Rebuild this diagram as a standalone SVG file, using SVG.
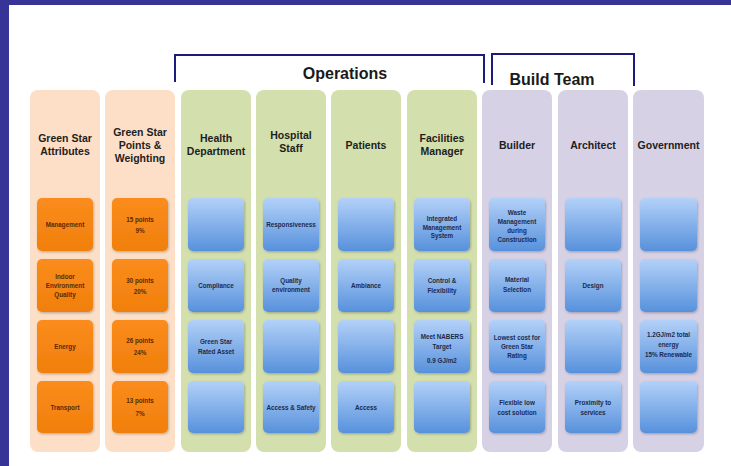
<svg xmlns="http://www.w3.org/2000/svg" width="731" height="466" viewBox="0 0 731 466">
<defs>
<linearGradient id="gBlue" x1="0" y1="0" x2="0" y2="1">
<stop offset="0" stop-color="#b3d1f8"/>
<stop offset="1" stop-color="#5791dc"/>
</linearGradient>
<linearGradient id="gOrange" x1="0" y1="0" x2="0" y2="1">
<stop offset="0" stop-color="#fb8c1c"/>
<stop offset="1" stop-color="#f07f0c"/>
</linearGradient>
<filter id="sh" x="-10%" y="-10%" width="130%" height="130%">
<feDropShadow dx="0.8" dy="1.2" stdDeviation="0.9" flood-color="#000" flood-opacity="0.25"/>
</filter>
</defs>
<style>
.col{stroke:none}
.peach{fill:#fcdfc6}
.green{fill:#d3dfad}
.lav{fill:#d7d1e5}
.ob{fill:url(#gOrange);filter:url(#sh)}
.bb{fill:url(#gBlue);filter:url(#sh)}
.hd{font-family:"Liberation Sans",Arial,sans-serif;font-weight:bold;font-size:10.5px;fill:#1e1e1e;text-anchor:middle}
.ot{font-family:"Liberation Sans",Arial,sans-serif;font-weight:bold;font-size:6.3px;fill:#5a2a05;text-anchor:middle}
.bt{font-family:"Liberation Sans",Arial,sans-serif;font-weight:bold;font-size:6.3px;fill:#1c2a4c;text-anchor:middle}
.grp{font-family:"Liberation Sans",Arial,sans-serif;font-weight:bold;font-size:16px;fill:#1a1a1a;text-anchor:middle}
.br{fill:none;stroke:#1c1c7c;stroke-width:2}
</style>
<rect x="0" y="0" width="731" height="466" fill="#ffffff"/>
<rect x="0" y="0" width="731" height="5" fill="#363597"/>
<rect x="0" y="0" width="9" height="466" fill="#363597"/>

<g id="connectors">
<path class="br" d="M175,82 V55 H484 V83"/>
<path class="br" d="M492,85 V54 H634 V86"/>
</g>
<g id="operations-label"><text class="grp" x="345" y="79">Operations</text></g>
<g id="buildteam-label"><text class="grp" x="552" y="85">Build Team</text></g>

<g id="col-attributes">
<rect class="col peach" x="30" y="90" width="70" height="362" rx="8"/>
<text class="hd" x="65" y="142">Green Star</text>
<text class="hd" x="65" y="155">Attributes</text>
<rect class="ob" x="37" y="198" width="56" height="53" rx="5"/>
<rect class="ob" x="37" y="259" width="56" height="53" rx="5"/>
<rect class="ob" x="37" y="320" width="56" height="53" rx="5"/>
<rect class="ob" x="37" y="381" width="56" height="52" rx="5"/>
<text class="ot" x="65" y="227.3">Management</text>
<text class="ot" x="65" y="279.3">Indoor</text>
<text class="ot" x="65" y="288.3">Environment</text>
<text class="ot" x="65" y="297.3">Quality</text>
<text class="ot" x="65" y="349">Energy</text>
<text class="ot" x="65" y="410">Transport</text>
</g>

<g id="col-points">
<rect class="col peach" x="105" y="90" width="70" height="362" rx="8"/>
<text class="hd" x="140" y="135.5">Green Star</text>
<text class="hd" x="140" y="148.5">Points &amp;</text>
<text class="hd" x="140" y="161.5">Weighting</text>
<rect class="ob" x="112" y="198" width="56" height="53" rx="5"/>
<rect class="ob" x="112" y="259" width="56" height="53" rx="5"/>
<rect class="ob" x="112" y="320" width="56" height="53" rx="5"/>
<rect class="ob" x="112" y="381" width="56" height="52" rx="5"/>
<text class="ot" x="140" y="222.3">15 points</text>
<text class="ot" x="140" y="233">9%</text>
<text class="ot" x="140" y="283">30 points</text>
<text class="ot" x="140" y="294">20%</text>
<text class="ot" x="140" y="343.3">26 points</text>
<text class="ot" x="140" y="354.6">24%</text>
<text class="ot" x="140" y="403.3">13 points</text>
<text class="ot" x="140" y="415.6">7%</text>
</g>

<g id="col-health">
<rect class="col green" x="181" y="90" width="70" height="362" rx="8"/>
<text class="hd" x="216" y="142">Health</text>
<text class="hd" x="216" y="155">Department</text>
<rect class="bb" x="188" y="198" width="56" height="53" rx="5"/>
<rect class="bb" x="188" y="259" width="56" height="53" rx="5"/>
<rect class="bb" x="188" y="320" width="56" height="53" rx="5"/>
<rect class="bb" x="188" y="381" width="56" height="52" rx="5"/>
<text class="bt" x="216" y="288.3">Compliance</text>
<text class="bt" x="216" y="344">Green Star</text>
<text class="bt" x="216" y="354">Rated Asset</text>
</g>

<g id="col-staff">
<rect class="col green" x="256" y="90" width="70" height="362" rx="8"/>
<text class="hd" x="291" y="139">Hospital</text>
<text class="hd" x="291" y="152">Staff</text>
<rect class="bb" x="263" y="198" width="56" height="53" rx="5"/>
<rect class="bb" x="263" y="259" width="56" height="53" rx="5"/>
<rect class="bb" x="263" y="320" width="56" height="53" rx="5"/>
<rect class="bb" x="263" y="381" width="56" height="52" rx="5"/>
<text class="bt" x="291" y="227.3">Responsiveness</text>
<text class="bt" x="291" y="283.3">Quality</text>
<text class="bt" x="291" y="292.3">environment</text>
<text class="bt" x="291" y="410">Access &amp; Safety</text>
</g>

<g id="col-patients">
<rect class="col green" x="331" y="90" width="70" height="362" rx="8"/>
<text class="hd" x="366" y="149">Patients</text>
<rect class="bb" x="338" y="198" width="56" height="53" rx="5"/>
<rect class="bb" x="338" y="259" width="56" height="53" rx="5"/>
<rect class="bb" x="338" y="320" width="56" height="53" rx="5"/>
<rect class="bb" x="338" y="381" width="56" height="52" rx="5"/>
<text class="bt" x="366" y="288.3">Ambiance</text>
<text class="bt" x="366" y="410">Access</text>
</g>

<g id="col-facilities">
<rect class="col green" x="407" y="90" width="70" height="362" rx="8"/>
<text class="hd" x="442" y="142">Facilities</text>
<text class="hd" x="442" y="155">Manager</text>
<rect class="bb" x="414" y="198" width="56" height="53" rx="5"/>
<rect class="bb" x="414" y="259" width="56" height="53" rx="5"/>
<rect class="bb" x="414" y="320" width="56" height="53" rx="5"/>
<rect class="bb" x="414" y="381" width="56" height="52" rx="5"/>
<text class="bt" x="442" y="221">Integrated</text>
<text class="bt" x="442" y="229.5">Management</text>
<text class="bt" x="442" y="238">System</text>
<text class="bt" x="442" y="283.3">Control &amp;</text>
<text class="bt" x="442" y="293">Flexibility</text>
<text class="bt" x="442" y="339">Meet NABERS</text>
<text class="bt" x="442" y="349">Target</text>
<text class="bt" x="442" y="363">0.9 GJ/m2</text>
</g>

<g id="col-builder">
<rect class="col lav" x="482" y="90" width="70" height="362" rx="8"/>
<text class="hd" x="517" y="149">Builder</text>
<rect class="bb" x="489" y="198" width="56" height="53" rx="5"/>
<rect class="bb" x="489" y="259" width="56" height="53" rx="5"/>
<rect class="bb" x="489" y="320" width="56" height="53" rx="5"/>
<rect class="bb" x="489" y="381" width="56" height="52" rx="5"/>
<text class="bt" x="517" y="214.5">Waste</text>
<text class="bt" x="517" y="223.5">Management</text>
<text class="bt" x="517" y="232.5">during</text>
<text class="bt" x="517" y="241.5">Construction</text>
<text class="bt" x="517" y="282.3">Material</text>
<text class="bt" x="517" y="292">Selection</text>
<text class="bt" x="517" y="339.6">Lowest cost for</text>
<text class="bt" x="517" y="349">Green Star</text>
<text class="bt" x="517" y="358">Rating</text>
<text class="bt" x="517" y="405">Flexible low</text>
<text class="bt" x="517" y="414.6">cost solution</text>
</g>

<g id="col-architect">
<rect class="col lav" x="558" y="90" width="70" height="362" rx="8"/>
<text class="hd" x="593" y="149">Architect</text>
<rect class="bb" x="565" y="198" width="56" height="53" rx="5"/>
<rect class="bb" x="565" y="259" width="56" height="53" rx="5"/>
<rect class="bb" x="565" y="320" width="56" height="53" rx="5"/>
<rect class="bb" x="565" y="381" width="56" height="52" rx="5"/>
<text class="bt" x="593" y="288.3">Design</text>
<text class="bt" x="593" y="405">Proximity to</text>
<text class="bt" x="593" y="414.6">services</text>
</g>

<g id="col-government">
<rect class="col lav" x="633" y="90" width="71" height="362" rx="8"/>
<text class="hd" x="668.5" y="149">Government</text>
<rect class="bb" x="640" y="198" width="57" height="53" rx="5"/>
<rect class="bb" x="640" y="259" width="57" height="53" rx="5"/>
<rect class="bb" x="640" y="320" width="57" height="53" rx="5"/>
<rect class="bb" x="640" y="381" width="57" height="52" rx="5"/>
<text class="bt" x="668.5" y="336.6">1.2GJ/m2 total</text>
<text class="bt" x="668.5" y="346.6">energy</text>
<text class="bt" x="668.5" y="356.6">15% Renewable</text>
</g>
</svg>
